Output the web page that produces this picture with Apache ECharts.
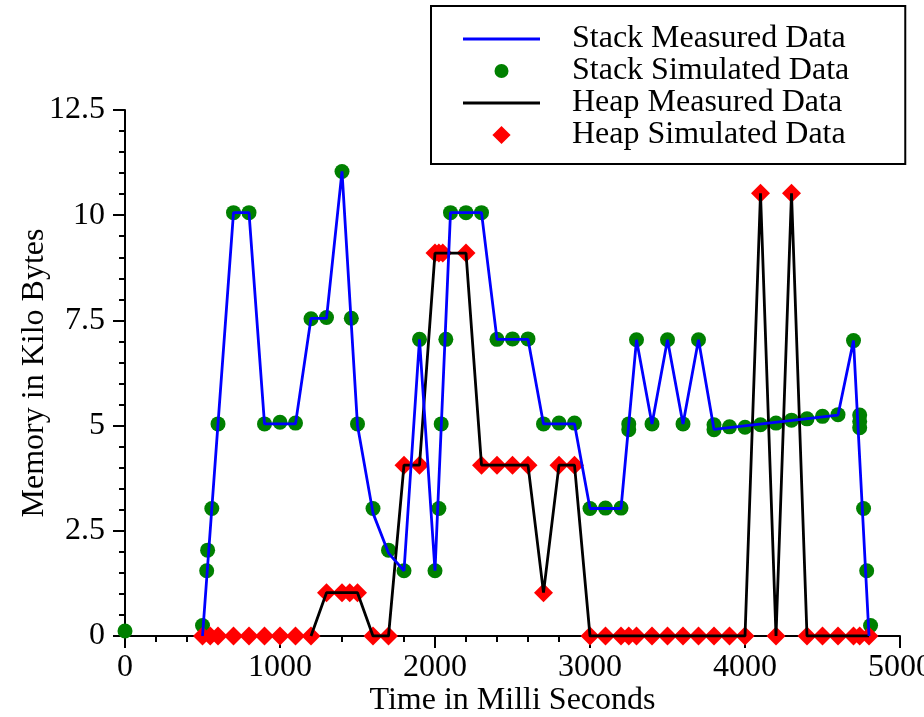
<!DOCTYPE html>
<html>
<head>
<meta charset="utf-8">
<script src="https://cdn.jsdelivr.net/npm/echarts@6/dist/echarts.min.js"></script>
<style>
  html, body { margin: 0; padding: 0; background: #fff; }
  #chart { width: 924px; height: 717px; }
</style>
</head>
<body>
<div id="chart"></div>
<script>
// stack: measured trace (every 100 ms) and simulated samples
const stackMeasuredTime = [500, 600, 700, 800, 900, 1000, 1100, 1200, 1300, 1400, 1500, 1600, 1700, 1800, 1900, 2000, 2100, 2200, 2300, 2400, 2500, 2600, 2700, 2800, 2900, 3000, 3100, 3200, 3300, 3400, 3500, 3600, 3700, 3800, 4600, 4700, 4800];
const stackMeasuredKB = [0, 5.04, 10.06, 10.06, 5.04, 5.04, 5.04, 7.55, 7.55, 11.04, 5.0, 2.92, 1.97, 1.55, 7.05, 1.55, 10.06, 10.06, 10.06, 7.05, 7.05, 7.05, 5.04, 5.04, 5.04, 3.03, 3.03, 3.03, 7.04, 5.04, 7.04, 5.04, 7.04, 4.91, 5.25, 7.02, 0];

const stackSimTime = [0, 500, 527, 533, 560, 600, 700, 800, 900, 1000, 1100, 1200, 1300, 1400, 1460, 1500, 1600, 1700, 1800, 1900, 2000, 2025, 2040, 2070, 2100, 2200, 2300, 2400, 2500, 2600, 2700, 2800, 2900, 3000, 3100, 3200, 3250, 3250, 3300, 3400, 3500, 3600, 3700, 3800, 3800, 3900, 4000, 4100, 4200, 4300, 4400, 4500, 4600, 4700, 4740, 4740, 4740, 4765, 4785, 4810];
const stackSimKB = [0.12, 0.25, 1.55, 2.04, 3.03, 5.04, 10.06, 10.06, 5.04, 5.08, 5.06, 7.54, 7.57, 11.04, 7.55, 5.04, 3.03, 2.04, 1.55, 7.05, 1.55, 3.03, 5.04, 7.05, 10.06, 10.06, 10.06, 7.05, 7.06, 7.06, 5.04, 5.06, 5.06, 3.03, 3.04, 3.04, 5.04, 4.9, 7.04, 5.04, 7.04, 5.04, 7.04, 5.02, 4.9, 4.97, 4.96, 5.02, 5.06, 5.13, 5.16, 5.22, 5.26, 7.02, 5.25, 5.1, 4.95, 3.03, 1.55, 0.25];

// heap
const heapMeasuredTime = [1200, 1300, 1500, 1600, 1700, 1800, 1900, 2000, 2200, 2300, 2600, 2700, 2800, 2900, 3000, 4000, 4100, 4200, 4300, 4400, 4800];
const heapMeasuredKB = [0, 1.03, 1.03, 0, 0, 4.06, 4.06, 9.1, 9.1, 4.06, 4.06, 1.03, 4.06, 4.06, 0, 0, 10.52, 0, 10.52, 0, 0];

const heapSimTime = [500, 550, 600, 700, 800, 900, 1000, 1100, 1200, 1300, 1400, 1450, 1500, 1600, 1700, 1800, 1900, 2000, 2025, 2050, 2200, 2300, 2400, 2500, 2600, 2700, 2800, 2900, 3000, 3100, 3200, 3250, 3300, 3400, 3500, 3600, 3700, 3800, 3900, 4000, 4100, 4200, 4300, 4400, 4500, 4600, 4700, 4740, 4800];
const heapSimKB = [0, 0, 0, 0, 0, 0, 0, 0, 0, 1.03, 1.03, 1.03, 1.03, 0, 0, 4.06, 4.06, 9.1, 9.1, 9.1, 9.1, 4.06, 4.06, 4.06, 4.06, 1.03, 4.06, 4.06, 0, 0, 0, 0, 0, 0, 0, 0, 0, 0, 0, 0, 10.52, 0, 10.52, 0, 0, 0, 0, 0, 0];

const xTicks = { min: 0, max: 5000, interval: 1000 };
const yTicks = { min: 0, max: 12.5, interval: 2.5 };

const fontFamily = 'Liberation Serif';
const zip = (xs, ys) => xs.map((x, i) => [x, ys[i]]);
const lineIcon = 'path://M0,0L77,0L77,2.8L0,2.8Z';

const chart = echarts.init(document.getElementById('chart'));

const axisCommon = {
  type: 'value',
  nameLocation: 'middle',
  nameMoveOverlap: false,
  nameTextStyle: { fontFamily, fontSize: 32, color: '#000' },
  axisLine: { show: true, lineStyle: { color: '#000', width: 2 } },
  axisTick: { show: true, length: 12, lineStyle: { color: '#000', width: 2 } },
  minorTick: { show: true, splitNumber: 5, length: 6, lineStyle: { color: '#000', width: 2 } },
  axisLabel: { fontFamily, fontSize: 32, color: '#000', formatter: (v) => String(v) },
  splitLine: { show: false },
};

chart.setOption({
  animation: false,
  backgroundColor: '#fff',
  grid: { left: 125, right: 24, top: 110, bottom: 81, containLabel: false, outerBoundsMode: 'none' },
  xAxis: {
    ...axisCommon,
    ...xTicks,
    name: 'Time in Milli Seconds',
    nameGap: 49,
    axisLabel: { ...axisCommon.axisLabel, margin: 16 },
  },
  yAxis: {
    ...axisCommon,
    ...yTicks,
    name: 'Memory in Kilo Bytes',
    nameGap: 74,
    axisLabel: { ...axisCommon.axisLabel, margin: 20 },
  },
  legend: {
    orient: 'vertical',
    left: 431,
    top: 6,
    padding: [17, 56, 13, 32],
    itemGap: 0,
    itemWidth: 77,
    itemHeight: 14,
    borderColor: '#000',
    borderWidth: 2,
    selectedMode: false,
    textStyle: { fontFamily, fontSize: 32, lineHeight: 32, color: '#000', padding: [0, 0, 0, 27] },
    data: [
      { name: 'Stack Measured Data', icon: lineIcon, itemStyle: { color: '#0000ff' } },
      { name: 'Stack Simulated Data', icon: 'circle' },
      { name: 'Heap Measured Data', icon: lineIcon, itemStyle: { color: '#000' } },
      {
        name: 'Heap Simulated Data',
        icon: 'path://M0,8L8,0L16,8L8,16Z',
        itemStyle: { color: '#ff0000', borderColor: '#ff0000', borderWidth: 3 },
      },
    ],
  },
  series: [
    {
      name: 'Stack Simulated Data',
      type: 'scatter',
      data: zip(stackSimTime, stackSimKB),
      symbol: 'circle',
      symbolSize: 15,
      itemStyle: { color: '#008000', opacity: 1 },
      z: 1,
    },
    {
      name: 'Heap Simulated Data',
      type: 'scatter',
      data: zip(heapSimTime, heapSimKB),
      symbol: 'diamond',
      symbolSize: 19,
      itemStyle: { color: '#ff0000', opacity: 1 },
      z: 2,
    },
    {
      name: 'Heap Measured Data',
      type: 'line',
      data: zip(heapMeasuredTime, heapMeasuredKB),
      symbol: 'none',
      lineStyle: { color: '#000', width: 2.8 },
      itemStyle: { color: '#000' },
      z: 3,
    },
    {
      name: 'Stack Measured Data',
      type: 'line',
      data: zip(stackMeasuredTime, stackMeasuredKB),
      symbol: 'none',
      lineStyle: { color: '#0000ff', width: 2.8 },
      itemStyle: { color: '#0000ff' },
      z: 4,
    },
  ],
});
</script>
</body>
</html>
